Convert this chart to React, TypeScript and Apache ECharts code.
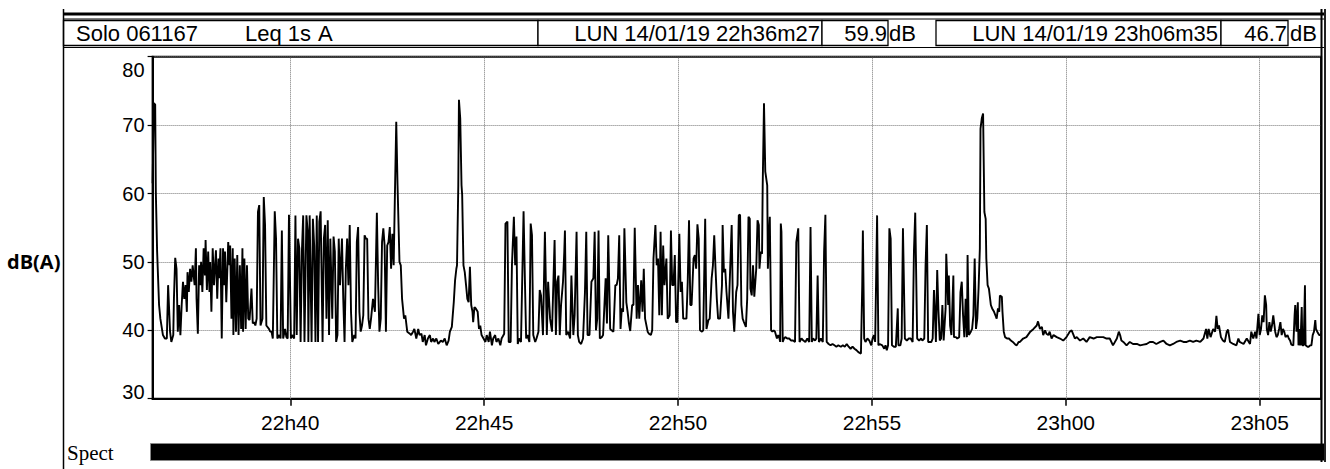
import React, { useEffect, useRef } from "react";
import * as echarts from "echarts";

// ---------- header / labels ----------
const START_TIME = "22:36:27";
const END_TIME = "23:06:35";
const INSTRUMENT = "Solo 061167";
const METRIC = "Leq 1s";
const WEIGHTING = "A";
const CURSOR_START_LABEL = "LUN 14/01/19 22h36m27";
const CURSOR_START_VALUE = "59.9";
const CURSOR_END_LABEL = "LUN 14/01/19 23h06m35";
const CURSOR_END_VALUE = "46.7";
const UNIT = "dB";
const Y_TITLE = "dB(A)";
const BAND_TITLE = "Spect";

const X_TICK_LABELS = ["22h40", "22h45", "22h50", "22h55", "23h00", "23h05"];
const Y_MIN = 30;
const Y_MAX = 80;
const Y_STEP = 10;

// ---------- data: [seconds after start, dB(A)] ----------
const levels1: [number, number][] = [
  [0, 61.5], [2, 73.2], [4, 73.0], [5, 60.2], [7, 51.5], [10, 43.7], [12, 41.7], [16, 39.3], [19, 38.8], [22, 38.8],
  [24, 46.6], [25, 46.6], [27, 39.8], [29, 38.3], [32, 39.3], [33, 44.6], [35, 50.6], [37, 49.0], [39, 39.8], [41, 43.7],
  [43, 39.3], [45, 43.7], [47, 47.1], [49, 44.6], [51, 46.6], [53, 42.7], [54, 48.5], [56, 45.6], [58, 49.0], [60, 47.1],
  [62, 49.5], [65, 46.6], [67, 52.0], [68, 44.6], [70, 39.5], [72, 49.5], [74, 46.6], [75, 50.0], [77, 45.6], [79, 52.0],
  [81, 48.0], [82, 53.2], [84, 45.9], [86, 51.5], [88, 45.6], [89, 50.0], [91, 42.7], [93, 52.0], [95, 46.6], [98, 51.7],
  [100, 44.6], [102, 50.5], [103, 47.6], [105, 52.0], [107, 38.8], [109, 52.0], [111, 46.6], [112, 51.5], [114, 44.1],
  [117, 52.9], [119, 49.5], [120, 52.4], [122, 41.7], [124, 52.0], [125, 39.3], [127, 50.5], [129, 39.8], [131, 51.0],
  [133, 39.3], [135, 49.5], [137, 40.2], [139, 52.0], [140, 39.8], [142, 50.5], [144, 40.2], [146, 49.5], [148, 41.7],
  [150, 41.5], [153, 46.1], [155, 41.0], [157, 41.2], [159, 40.7], [161, 41.7], [163, 57.3], [165, 58.3], [167, 40.7],
  [170, 41.7], [172, 59.5], [174, 55.4], [176, 40.7], [180, 40.2], [182, 39.8], [184, 39.8], [186, 38.8], [189, 57.4],
  [191, 53.4], [193, 38.8], [196, 39.3], [198, 38.8], [200, 54.6], [202, 38.8], [205, 40.2], [207, 39.0], [209, 38.8],
  [211, 56.9], [214, 38.8], [216, 39.3], [219, 38.8], [221, 56.8], [223, 39.3], [225, 53.4], [227, 52.0], [229, 38.3],
  [231, 51.5], [233, 56.8], [235, 38.3], [238, 56.8], [240, 54.4], [241, 38.3], [243, 56.8], [246, 38.3], [248, 56.3],
  [250, 52.4], [252, 38.3], [254, 56.8], [256, 38.3], [258, 55.9], [260, 57.4], [263, 38.3], [265, 53.4], [267, 55.4],
  [269, 41.7], [271, 56.1], [273, 39.3], [275, 53.4], [278, 41.7], [280, 53.7], [282, 51.5], [284, 38.3], [286, 39.3],
  [288, 53.4], [290, 46.6], [293, 53.4], [295, 44.6], [297, 38.3], [299, 49.0], [301, 53.4], [303, 46.6], [305, 55.4],
  [307, 42.7], [309, 38.3], [312, 39.3], [314, 38.8], [316, 52.9], [318, 55.1], [320, 42.7], [322, 39.8], [324, 40.7],
  [326, 42.2], [328, 53.9], [330, 53.4], [332, 53.4], [334, 41.7], [336, 40.2], [338, 41.7], [341, 44.6], [344, 42.7],
  [347, 57.2], [349, 46.6], [351, 39.8], [353, 41.7], [355, 52.9], [357, 54.9], [359, 52.4], [361, 39.8], [363, 52.4],
  [365, 52.9], [367, 55.1], [369, 49.0], [371, 54.1], [373, 49.5], [375, 60.2], [377, 70.5], [379, 61.2], [382, 50.0],
  [384, 49.5], [386, 44.6], [389, 41.7], [391, 42.2], [394, 39.8], [398, 39.5], [400, 39.3], [403, 39.8], [405, 40.2],
  [408, 38.8], [411, 40.2], [413, 39.3], [416, 39.5], [418, 38.3], [421, 39.3], [423, 37.8], [426, 38.8], [429, 39.3],
  [431, 38.3], [434, 38.8], [436, 38.3], [439, 38.8], [442, 38.0],
];

const levels2: [number, number][] = [
  [446, 38.5], [449, 38.3], [452, 38.8], [455, 37.8], [458, 38.5], [460, 39.8], [463, 40.5], [464, 41.7], [466, 44.1],
  [468, 47.3], [470, 49.0], [471, 49.5], [473, 61.2], [474, 73.7], [476, 71.0], [478, 61.2], [479, 59.8], [481, 49.5],
  [483, 48.5], [485, 46.6], [487, 44.6], [489, 44.1], [491, 49.3], [493, 43.7], [495, 42.7], [496, 41.2], [498, 43.4],
  [500, 43.2], [503, 42.7], [505, 40.2], [507, 40.7], [509, 39.3], [512, 38.8], [515, 38.3], [517, 39.3], [520, 38.3],
  [522, 39.8], [525, 37.8], [527, 38.8], [530, 39.3], [532, 38.3], [535, 38.8], [538, 37.8], [540, 38.8], [543, 39.3],
  [544, 39.5], [546, 55.6], [549, 55.9], [551, 38.3], [554, 38.3], [556, 49.5], [559, 56.6], [561, 49.5], [563, 53.7],
  [565, 38.0], [567, 38.8], [570, 38.3], [574, 57.4], [576, 47.6], [578, 38.8], [580, 39.3], [583, 38.3], [585, 55.6],
  [587, 53.9], [589, 39.3], [592, 38.3], [594, 38.8], [597, 39.8], [599, 45.9], [601, 45.1], [604, 39.3], [607, 54.4],
  [610, 39.3], [612, 47.1], [615, 41.7], [618, 39.8], [622, 53.2], [624, 39.3], [626, 47.1], [628, 48.0], [630, 39.3],
  [632, 43.7], [635, 47.1], [637, 51.5], [638, 54.6], [640, 39.3], [643, 39.8], [646, 38.8], [648, 48.0], [651, 39.3],
  [653, 42.2], [656, 54.4], [658, 39.3], [660, 38.3], [663, 38.0], [666, 38.8], [669, 45.6], [671, 54.4], [673, 39.3],
  [676, 39.3], [679, 47.1], [682, 47.6], [684, 54.4], [686, 40.0], [688, 41.7], [690, 54.6], [692, 38.8], [695, 39.0],
  [697, 39.3], [701, 47.6], [703, 41.0], [705, 53.9], [708, 40.2], [710, 40.0], [713, 39.8], [716, 46.6], [718, 46.6],
  [720, 47.6], [722, 53.9], [724, 40.2], [726, 43.2], [728, 42.7], [730, 54.9], [733, 44.1], [735, 42.7], [737, 41.0],
  [739, 39.9], [742, 43.7], [744, 43.7], [746, 55.0], [749, 41.7], [751, 46.6], [753, 41.7], [756, 47.3], [758, 42.7],
  [760, 49.0], [762, 41.7], [766, 39.8], [768, 39.5], [771, 39.3], [773, 40.0], [775, 50.5], [778, 55.4], [780, 49.5],
  [782, 50.5], [784, 42.2], [786, 54.4], [788, 42.2], [790, 52.4], [792, 46.6], [795, 50.5], [797, 41.7], [800, 42.2],
  [802, 54.6], [804, 46.6], [806, 46.6], [808, 51.0], [810, 41.2], [812, 41.2], [815, 54.1], [817, 45.6], [819, 47.1],
  [821, 41.7], [824, 41.7], [826, 41.7], [828, 47.1], [830, 56.1], [832, 43.7], [834, 43.7], [837, 50.5], [839, 51.0],
  [841, 49.0], [843, 55.5], [845, 53.4], [847, 40.0], [850, 39.8], [852, 40.0], [855, 56.3], [857, 40.2], [860, 41.5],
  [862, 41.7], [865, 47.6], [867, 49.5], [869, 53.9], [871, 49.0], [873, 44.6], [875, 41.7], [878, 41.7], [881, 46.6],
  [882, 55.4], [884, 48.5], [886, 49.0], [888, 45.6], [891, 41.7],
];

const levels3: [number, number][] = [
  [896, 55.4], [898, 42.7], [900, 39.8], [903, 45.6], [905, 46.6], [907, 56.8], [909, 56.9], [911, 43.7], [913, 41.7],
  [915, 41.2], [918, 40.5], [920, 44.6], [922, 56.6], [924, 56.3], [925, 46.1], [927, 45.1], [929, 49.5], [931, 44.9],
  [934, 49.0], [936, 56.1], [938, 55.4], [939, 49.0], [941, 51.5], [943, 51.2], [944, 61.2], [946, 73.2], [948, 63.2],
  [951, 61.2], [952, 49.0], [954, 54.4], [955, 56.6], [957, 40.0], [959, 39.8], [961, 40.0], [963, 39.8], [966, 38.8],
  [968, 39.3], [970, 38.8], [971, 38.3], [972, 55.6], [973, 54.4], [975, 38.3], [977, 38.8], [979, 39.0], [982, 38.8],
  [985, 38.8], [988, 38.5], [991, 38.5], [994, 38.3], [996, 52.9], [999, 54.9], [1001, 38.3], [1004, 38.8], [1007, 38.5],
  [1010, 38.3], [1013, 38.8], [1016, 38.3], [1018, 55.1], [1020, 38.3], [1022, 38.8], [1025, 38.5], [1027, 38.8],
  [1029, 48.0], [1031, 38.3], [1034, 38.8], [1037, 38.3], [1039, 51.5], [1041, 56.9], [1043, 38.3], [1046, 38.0],
  [1049, 37.8], [1052, 38.0], [1055, 37.8], [1058, 37.6], [1061, 37.8], [1065, 37.6], [1068, 37.8], [1071, 37.6],
  [1074, 38.0], [1077, 37.6], [1080, 37.3], [1083, 37.6], [1086, 37.3], [1089, 37.1], [1092, 36.8], [1096, 36.6],
  [1098, 46.6], [1099, 54.6], [1101, 38.8], [1103, 38.3], [1106, 38.8], [1109, 38.5], [1112, 37.8], [1114, 38.8],
  [1116, 39.3], [1118, 38.3], [1121, 56.8], [1123, 37.8], [1125, 38.0], [1129, 37.8], [1132, 37.3], [1134, 37.8],
  [1136, 37.1], [1138, 37.8], [1140, 54.9], [1142, 53.4], [1144, 37.8], [1147, 37.6], [1150, 37.6], [1153, 43.2],
  [1154, 37.8], [1157, 37.8], [1159, 38.8], [1161, 54.9], [1164, 38.8], [1167, 38.5], [1170, 38.8], [1173, 38.8],
  [1176, 38.3], [1178, 51.5], [1180, 57.2], [1183, 38.8], [1186, 38.5], [1189, 38.8], [1191, 38.5], [1194, 38.8],
  [1196, 49.5], [1198, 55.4], [1200, 38.3], [1203, 38.3], [1205, 38.3], [1207, 38.8], [1209, 45.9], [1210, 43.7],
  [1212, 38.3], [1214, 48.8], [1216, 42.7], [1218, 38.5], [1220, 38.8], [1222, 43.7], [1224, 38.5], [1227, 43.2],
  [1228, 51.2], [1231, 43.7], [1232, 48.0], [1234, 40.7], [1236, 39.3], [1239, 48.0], [1240, 39.0], [1243, 39.0],
  [1245, 38.8], [1248, 39.0], [1250, 45.6], [1252, 47.1], [1254, 42.2], [1256, 39.0], [1258, 44.6], [1260, 39.0],
  [1261, 51.0], [1263, 39.3], [1266, 39.8], [1268, 40.2], [1270, 42.2], [1272, 50.5], [1274, 40.2], [1276, 41.7],
  [1278, 46.1], [1280, 52.0], [1281, 69.5], [1283, 71.0], [1285, 71.7], [1287, 57.3], [1289, 56.3], [1290, 50.5],
  [1292, 46.6], [1294, 46.1], [1297, 43.7], [1299, 43.2], [1302, 42.7], [1304, 42.2], [1306, 41.7], [1308, 43.2],
  [1310, 42.7], [1311, 45.1], [1314, 44.9], [1315, 42.7], [1317, 39.8], [1319, 39.0], [1322, 38.8], [1325, 38.8],
  [1328, 38.5], [1331, 38.3], [1335, 37.9], [1337, 37.8], [1340, 38.3],
];

const levels4: [number, number][] = [
  [1342, 38.3], [1347, 38.8], [1352, 39.0], [1358, 39.8], [1363, 40.2], [1368, 40.7], [1370, 41.3], [1373, 40.2],
  [1376, 40.5], [1378, 39.3], [1381, 40.0], [1383, 39.5], [1386, 39.3], [1388, 39.8], [1391, 38.8], [1394, 39.3],
  [1399, 39.0], [1404, 38.8], [1409, 38.5], [1414, 39.0], [1419, 39.8], [1422, 40.0], [1425, 39.3], [1427, 38.8],
  [1430, 39.0], [1435, 38.5], [1440, 38.8], [1445, 38.3], [1450, 39.0], [1456, 38.8], [1461, 39.0], [1466, 39.0],
  [1471, 39.0], [1476, 38.8], [1481, 38.8], [1486, 37.8], [1492, 38.8], [1495, 39.8], [1497, 39.3], [1499, 38.5],
  [1502, 38.3], [1507, 37.8], [1512, 38.3], [1517, 38.0], [1523, 38.0], [1528, 37.8], [1533, 37.9], [1538, 38.0],
  [1543, 38.3], [1548, 38.3], [1553, 38.0], [1559, 38.3], [1564, 38.5], [1569, 38.0], [1574, 37.8], [1579, 38.0],
  [1584, 38.3], [1590, 38.5], [1595, 38.3], [1600, 38.3], [1605, 38.5], [1610, 38.3], [1615, 38.5], [1621, 38.3],
  [1626, 38.8], [1630, 40.2], [1632, 38.8], [1634, 40.2], [1637, 39.0], [1641, 40.2], [1644, 39.8], [1646, 42.1],
  [1648, 40.2], [1650, 40.7], [1653, 39.0], [1656, 38.5], [1659, 38.3], [1662, 39.8], [1664, 40.1], [1667, 38.3],
  [1672, 38.0], [1677, 37.8], [1680, 38.8], [1682, 38.3], [1688, 38.0], [1693, 38.8], [1698, 38.0], [1700, 39.8],
  [1703, 38.8], [1706, 39.8], [1708, 38.8], [1710, 41.2], [1711, 42.4], [1713, 39.3], [1715, 40.2], [1717, 42.2],
  [1719, 41.2], [1721, 45.1], [1723, 43.7], [1724, 40.2], [1726, 39.3], [1728, 41.2], [1730, 39.8], [1732, 40.7],
  [1734, 42.2], [1737, 39.8], [1739, 39.0], [1741, 39.3], [1743, 40.2], [1745, 41.2], [1747, 39.3], [1749, 40.2],
  [1751, 39.8], [1753, 39.0], [1756, 39.3], [1758, 38.8], [1760, 38.5], [1762, 37.9], [1765, 37.8], [1767, 42.2],
  [1768, 43.7], [1770, 39.8], [1772, 44.1], [1773, 37.8], [1775, 40.2], [1776, 37.8], [1778, 43.4], [1779, 37.8],
  [1781, 37.8], [1783, 46.6], [1784, 37.8], [1787, 37.6], [1789, 37.6], [1791, 37.8], [1793, 37.8], [1795, 39.3],
  [1797, 39.8], [1799, 41.5], [1800, 40.2], [1802, 39.8], [1805, 39.3], [1807, 39.3], [1808, 39.5],
];

// ---------- helpers ----------
const clockToSec = (s: string) => {
  const p = s.split(":").map(Number);
  return p[0] * 3600 + p[1] * 60 + (p[2] || 0);
};
const labelToSec = (s: string) => {
  const [h, m] = s.split("h").map(Number);
  return h * 3600 + m * 60;
};
const secToLabel = (v: number) => {
  const h = Math.floor(v / 3600);
  const m = Math.round((v - h * 3600) / 60);
  return `${h}h${String(m).padStart(2, "0")}`;
};

const SANS = '"Liberation Sans", Arial, Helvetica, sans-serif';
const SERIF = '"Liberation Serif", "Times New Roman", serif';

function txt(text: string, x: number, y: number, font: string, align = "left") {
  return {
    type: "text",
    silent: true,
    z: 100,
    style: {
      text,
      x,
      y,
      font,
      fill: "#000",
      textAlign: align,
      align,
      textVerticalAlign: "middle",
      verticalAlign: "middle",
    },
  };
}
function ln(x1: number, y1: number, x2: number, y2: number, w = 1, c = "#000") {
  return { type: "line", silent: true, z: 100, shape: { x1, y1, x2, y2 }, style: { stroke: c, lineWidth: w } };
}
function box(x: number, y: number, w: number, h: number) {
  return {
    type: "rect",
    silent: true,
    z: 99,
    shape: { x, y, width: w, height: h },
    style: { fill: "#fff", stroke: "#000", lineWidth: 1.3 },
  };
}

export default function App() {
  const ref = useRef<HTMLDivElement>(null);

  useEffect(() => {
    if (!ref.current) return;
    const chart = echarts.init(ref.current, undefined, { renderer: "svg" });
    const start = clockToSec(START_TIME);
    const end = clockToSec(END_TIME);
    const ticks = X_TICK_LABELS.map(labelToSec);
    const data = [...levels1, ...levels2, ...levels3, ...levels4].map(([t, v]) => [start + t, v]);

    const headerFont = `22px ${SANS}`;

    chart.setOption({
      animation: false,
      backgroundColor: "#fff",
      grid: {
        left: 152.6,
        right: 8.9,
        top: 56.7,
        bottom: 70.3,
        show: true,
        borderColor: "#000",
        borderWidth: 2,
        backgroundColor: "rgba(0,0,0,0)",
      },
      xAxis: {
        type: "value",
        min: start,
        max: end,
        axisLine: { show: true, onZero: false, lineStyle: { color: "#000", width: 2 } },
        axisTick: { show: true, customValues: ticks, length: 7, lineStyle: { color: "#000", width: 1.5 } },
        axisLabel: {
          customValues: ticks,
          formatter: (v: number) => secToLabel(v),
          color: "#000",
          fontSize: 21,
          fontFamily: SANS,
          margin: 13,
        },
        splitLine: { show: false },
      },
      yAxis: {
        type: "value",
        min: Y_MIN,
        max: Y_MAX,
        interval: Y_STEP,
        axisLine: { show: true, lineStyle: { color: "#000", width: 2 } },
        axisTick: { show: true, length: 5, lineStyle: { color: "#000", width: 1.2 } },
        axisLabel: {
          color: "#000",
          fontSize: 20,
          fontFamily: SANS,
          margin: 8,
          formatter: (v: number) => (v === Y_MAX ? `{top|${v}}` : v === Y_MIN ? `{bot|${v}}` : `${v}`),
          rich: {
            top: { padding: [26, 0, 0, 0], fontSize: 20, fontFamily: SANS, color: "#000" },
            bot: { padding: [0, 0, 14, 0], fontSize: 20, fontFamily: SANS, color: "#000" },
          },
        },
        splitLine: { show: true, lineStyle: { type: "dotted", color: "#777", width: 1 } },
      },
      series: [
        {
          type: "line",
          data,
          showSymbol: false,
          symbol: "none",
          lineStyle: { color: "#000", width: 1.9 },
          silent: true,
          z: 3,
          markLine: {
            silent: true,
            symbol: ["none", "none"],
            label: { show: false },
            lineStyle: { type: "dotted", color: "#777", width: 1 },
            data: ticks.map((v) => ({ xAxis: v })),
            z: 1,
          },
        },
      ],
      graphic: [
        // outer frame
        ln(63.5, 9, 63.5, 469, 1.5),
        ln(63, 14, 1326, 14, 3),
        ln(63, 19, 1326, 19, 1),
        ln(63, 47.5, 1326, 47.5, 1),
        ln(1321.5, 9, 1321.5, 462, 2),
        ln(1325, 9, 1325, 462, 2, "#222"),
        // header boxes
        box(63.5, 20.5, 474.5, 25),
        box(538, 20.5, 284, 25),
        box(822, 20.5, 66, 25),
        box(936, 20.5, 285, 25),
        box(1221, 20.5, 67, 25),
        // header texts
        txt(INSTRUMENT, 76, 33, headerFont),
        txt(METRIC, 245, 33, headerFont),
        txt(WEIGHTING, 318, 33, headerFont),
        txt(CURSOR_START_LABEL, 820, 33, headerFont, "right"),
        txt(CURSOR_START_VALUE, 887, 33, headerFont, "right"),
        txt(UNIT, 889, 33, headerFont),
        txt(CURSOR_END_LABEL, 1218, 33, headerFont, "right"),
        txt(CURSOR_END_VALUE, 1287, 33, headerFont, "right"),
        txt(UNIT, 1290, 33, headerFont),
        // y title
        txt(Y_TITLE, 7, 261, `bold 20px "Open Sans", "Noto Sans", sans-serif`),
        // spectrum band
        {
          type: "rect",
          silent: true,
          z: 99,
          shape: { x: 150.5, y: 443.5, width: 1174, height: 17 },
          style: { fill: "#000", stroke: "#888", lineWidth: 1 },
        },
        txt(BAND_TITLE, 67, 453, `21px ${SERIF}`),
      ],
    });

    return () => chart.dispose();
  }, []);

  return (
    <div
      ref={ref}
      style={{ position: "fixed", left: 0, top: 0, width: 1330, height: 469, background: "#fff" }}
    />
  );
}
